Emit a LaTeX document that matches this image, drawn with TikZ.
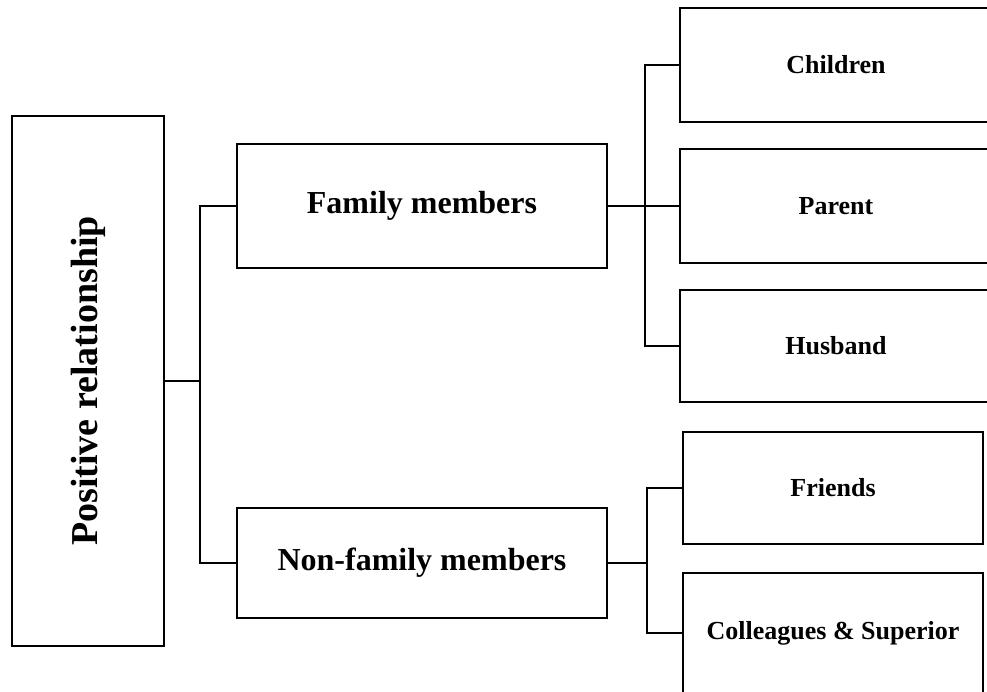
\documentclass[tikz,border=0pt]{standalone}
\usepackage{fontspec}
\setmainfont{Liberation Serif}
\begin{document}
\begin{tikzpicture}[x=1pt,y=-1pt,
  box/.style={draw,line width=2pt,inner sep=0pt,align=center,font=\bfseries},
  big/.style={font=\fontsize{32}{38}\selectfont\bfseries},
  small/.style={font=\fontsize{26}{31}\selectfont\bfseries},
  link/.style={line width=2pt}]
\useasboundingbox (0,0) rectangle (987,691);
\clip (0,0) rectangle (987,691);

% root
\node[box,minimum width=152pt,minimum height=530pt] (pr) at (88,381) {};
\node[rotate=90,font=\fontsize{38}{44}\selectfont\bfseries] (prt) at (pr.center) {Positive relationship};

% second level
\node[box,big,minimum width=370pt,minimum height=124pt] (fam) at (422,206) {Family members};
\node[box,big,minimum width=370pt,minimum height=110pt] (non) at (422,563) {Non-family members};

% third level
\node[box,small,minimum width=312pt,minimum height=114pt] (chi) at (836,65) {Children};
\node[box,small,minimum width=312pt,minimum height=114pt] (par) at (836,206) {Parent};
\node[box,small,minimum width=312pt,minimum height=112pt] (hus) at (836,346) {Husband};
\node[box,small,minimum width=300pt,minimum height=112pt] (fri) at (833,488) {Friends};
\node[box,small,minimum width=300pt,minimum height=120pt] (col) at (833,633) {Colleagues \& Superior};

% junction columns
\coordinate (j0) at (200,0);
\coordinate (j1) at (645,0);
\coordinate (j2) at (647,0);

% connectors
\draw[link] (pr.east) -- (pr.east -| j0);
\draw[link] (fam.west) -- (fam.west -| j0) |- (non.west);
\draw[link] (fam.east) -- (par.west);
\draw[link] (chi.west) -- (chi.west -| j1) |- (hus.west);
\draw[link] (non.east) -- (non.east -| j2);
\draw[link] (fri.west) -- (fri.west -| j2) |- (col.west);
\end{tikzpicture}
\end{document}
